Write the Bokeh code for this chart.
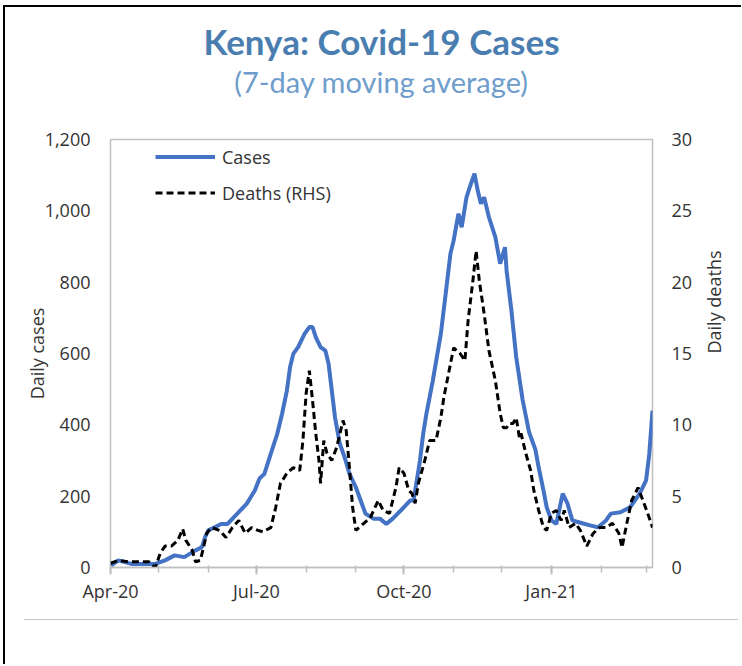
import math
import pandas as pd
from bokeh.plotting import figure
from bokeh.models import (Range1d, LinearAxis, FixedTicker, DatetimeTickFormatter,
                          NumeralTickFormatter, Title, Legend, LegendItem, Div)
from bokeh.layouts import column
from bokeh.embed import file_html
from bokeh.resources import INLINE

# ---------------- data ----------------
case_dates = [
    "2020-04-01", "2020-04-06", "2020-04-14", "2020-04-22", "2020-04-29", "2020-05-05",
    "2020-05-11", "2020-05-17", "2020-05-24", "2020-05-28", "2020-05-30", "2020-06-01",
    "2020-06-05", "2020-06-09", "2020-06-13", "2020-06-17", "2020-06-21", "2020-06-25",
    "2020-06-30", "2020-07-03", "2020-07-06", "2020-07-10", "2020-07-14", "2020-07-17",
    "2020-07-20", "2020-07-22", "2020-07-24", "2020-07-27", "2020-07-31", "2020-08-03",
    "2020-08-05", "2020-08-07", "2020-08-10", "2020-08-13", "2020-08-15", "2020-08-17",
    "2020-08-19", "2020-08-22", "2020-08-25", "2020-08-28", "2020-09-01", "2020-09-04",
    "2020-09-07", "2020-09-12", "2020-09-16", "2020-09-20", "2020-09-24", "2020-10-01",
    "2020-10-05", "2020-10-07", "2020-10-09", "2020-10-11", "2020-10-13", "2020-10-15",
    "2020-10-19", "2020-10-24", "2020-10-27", "2020-10-30", "2020-11-01", "2020-11-04",
    "2020-11-06", "2020-11-09", "2020-11-11", "2020-11-14", "2020-11-16", "2020-11-18",
    "2020-11-20", "2020-11-23", "2020-11-27", "2020-11-30", "2020-12-03", "2020-12-04",
    "2020-12-07", "2020-12-10", "2020-12-14", "2020-12-18", "2020-12-22", "2020-12-24",
    "2020-12-27", "2020-12-29", "2021-01-01", "2021-01-04", "2021-01-08", "2021-01-11",
    "2021-01-14", "2021-01-18", "2021-01-25", "2021-01-30", "2021-02-04", "2021-02-07",
    "2021-02-13", "2021-02-19", "2021-02-25", "2021-03-01", "2021-03-03", "2021-03-05",
]
case_values = [
    5, 20, 10, 10, 10, 20,
    34, 29, 48, 57, 85, 104,
    113, 122, 122, 141, 160, 179,
    216, 250, 263, 319, 375, 431,
    496, 562, 599, 618, 655, 674,
    674, 646, 618, 608, 571, 496,
    421, 347, 309, 263, 225, 188,
    151, 137, 137, 122, 137, 169,
    188, 188, 244, 300, 375, 431,
    524, 655, 767, 880, 917, 992,
    954, 1038, 1066, 1104, 1057, 1020,
    1038, 982, 926, 852, 898, 833,
    721, 590, 470, 380, 330, 281,
    216, 169, 132, 122, 207, 179,
    132, 127, 118, 113, 132, 151,
    155, 169, 207, 244, 319, 440,
]

death_dates = [
    "2020-04-01", "2020-04-06", "2020-04-12", "2020-04-19", "2020-04-25", "2020-04-29",
    "2020-05-02", "2020-05-05", "2020-05-09", "2020-05-13", "2020-05-16", "2020-05-18",
    "2020-05-22", "2020-05-24", "2020-05-27", "2020-05-29", "2020-05-31", "2020-06-03",
    "2020-06-08", "2020-06-12", "2020-06-16", "2020-06-20", "2020-06-24", "2020-06-28",
    "2020-07-02", "2020-07-05", "2020-07-10", "2020-07-13", "2020-07-16", "2020-07-20",
    "2020-07-24", "2020-07-28", "2020-07-30", "2020-08-01", "2020-08-03", "2020-08-05",
    "2020-08-07", "2020-08-09", "2020-08-10", "2020-08-12", "2020-08-14", "2020-08-17",
    "2020-08-20", "2020-08-24", "2020-08-26", "2020-08-28", "2020-08-30", "2020-09-01",
    "2020-09-06", "2020-09-10", "2020-09-15", "2020-09-18", "2020-09-22", "2020-09-26",
    "2020-09-28", "2020-10-01", "2020-10-04", "2020-10-06", "2020-10-08", "2020-10-10",
    "2020-10-14", "2020-10-17", "2020-10-21", "2020-10-24", "2020-10-26", "2020-11-01",
    "2020-11-05", "2020-11-08", "2020-11-10", "2020-11-13", "2020-11-15", "2020-11-17",
    "2020-11-20", "2020-11-23", "2020-11-27", "2020-11-30", "2020-12-02", "2020-12-04",
    "2020-12-06", "2020-12-08", "2020-12-10", "2020-12-12", "2020-12-13", "2020-12-16",
    "2020-12-19", "2020-12-21", "2020-12-24", "2020-12-27", "2020-12-29", "2021-01-01",
    "2021-01-04", "2021-01-07", "2021-01-09", "2021-01-12", "2021-01-16", "2021-01-19",
    "2021-01-23", "2021-01-27", "2021-01-31", "2021-02-04", "2021-02-08", "2021-02-12",
    "2021-02-14", "2021-02-17", "2021-02-20", "2021-02-24", "2021-02-27", "2021-03-02",
    "2021-03-05",
]
death_values = [
    0.3, 0.5, 0.4, 0.4, 0.4, 0.0,
    1.0, 1.5, 1.5, 1.9, 2.7, 1.9,
    1.2, 0.4, 0.5, 1.4, 2.4, 2.8,
    2.6, 2.1, 2.8, 3.3, 2.4, 2.8,
    2.6, 2.5, 2.8, 4.2, 5.9, 6.6,
    7.0, 6.8, 8.9, 12.2, 13.8, 11.7,
    9.4, 7.5, 5.9, 8.9, 8.0, 7.5,
    8.4, 10.3, 9.6, 7.0, 4.2, 2.6,
    3.1, 3.5, 4.7, 4.0, 3.8, 5.6,
    7.0, 6.6, 5.4, 5.2, 4.5, 5.9,
    7.5, 8.9, 8.9, 10.5, 12.0, 15.4,
    15.0, 14.5, 17.3, 20.1, 22.2, 20.1,
    17.8, 15.2, 13.1, 10.8, 9.8, 9.8,
    10.1, 10.1, 10.5, 9.1, 9.4, 8.0,
    6.8, 5.4, 4.0, 2.8, 2.6, 3.8,
    4.0, 3.3, 4.0, 2.8, 3.1, 2.6,
    1.5, 2.4, 2.8, 2.8, 3.1, 2.4,
    1.4, 3.1, 4.7, 5.6, 4.7, 3.8,
    2.8,
]

x_major_dates = ["2020-04-01", "2020-07-01", "2020-10-01", "2021-01-01"]
x_minor_dates = ["2020-04-01", "2020-05-01", "2020-06-01", "2020-07-01", "2020-08-01",
                 "2020-09-01", "2020-10-01", "2020-11-01", "2020-12-01", "2021-01-01",
                 "2021-02-01", "2021-03-01"]
x_start, x_end = "2020-04-01", "2021-03-05"
left_ticks = [0, 200, 400, 600, 800, 1000, 1200]
right_ticks = [0, 5, 10, 15, 20, 25, 30]


def to_ms(ds):
    return [pd.Timestamp(d).timestamp() * 1000.0 for d in ds]


FONT = "Open Sans"
TXT = "#333333"
GRAY = "#bfbfbf"

p = figure(width=736, height=612, x_axis_type="datetime",
           x_range=Range1d(pd.Timestamp(x_start), pd.Timestamp(x_end)),
           y_range=Range1d(left_ticks[0], left_ticks[-1]),
           output_backend="svg", toolbar_location=None, title=None,
           min_border_left=105, min_border_right=88, min_border_top=132, min_border_bottom=52,
           background_fill_color="white", border_fill_color="white",
           outline_line_color=GRAY, outline_line_width=1.5)
p.extra_y_ranges = {"deaths": Range1d(right_ticks[0], right_ticks[-1])}
p.xgrid.visible = False
p.ygrid.visible = False

# titles (spacer nearest the frame, then subtitle, then main title)
spacer = Title(text=" ", align="center", text_font_size="1px", standoff=38)
sub = Title(text="(7-day moving average)", align="center", text_font="Lato",
            text_font_size="29px", text_font_style="normal", text_color="#6f9dcb",
            standoff=0)
main = Title(text="Kenya: Covid-19 Cases", align="center", text_font="Lato",
             text_font_size="35px", text_font_style="bold", text_color="#4a7eb0",
             standoff=0)
p.add_layout(spacer, "above")
p.add_layout(sub, "above")
p.add_layout(main, "above")

# x axis
xa = p.xaxis[0]
xa.ticker = FixedTicker(ticks=to_ms(x_major_dates), minor_ticks=to_ms(x_minor_dates))
xa.formatter = DatetimeTickFormatter(days="%b-%y", months="%b-%y", years="%b-%y")
xa.axis_line_color = GRAY
xa.axis_line_width = 1.5
xa.major_tick_line_color = GRAY
xa.major_tick_line_width = 2
xa.major_tick_in = 2
xa.major_tick_out = 7
xa.minor_tick_line_color = GRAY
xa.minor_tick_line_width = 1.5
xa.minor_tick_in = 2
xa.minor_tick_out = 5
xa.major_label_standoff = 4
xa.major_label_text_font = FONT
xa.major_label_text_font_size = "18px"
xa.major_label_text_color = TXT

# left axis
ya = p.yaxis[0]
ya.ticker = FixedTicker(ticks=left_ticks)
ya.formatter = NumeralTickFormatter(format="0,0")
ya.axis_line_color = None
ya.major_tick_line_color = None
ya.minor_tick_line_color = None
ya.major_tick_in = 0
ya.major_tick_out = 0
ya.major_label_standoff = 20
ya.major_label_text_font = FONT
ya.major_label_text_font_size = "18px"
ya.major_label_text_color = TXT
ya.axis_label = "Daily cases"
ya.axis_label_standoff = -7
ya.axis_label_text_font = FONT
ya.axis_label_text_font_size = "18px"
ya.axis_label_text_font_style = "normal"
ya.axis_label_text_color = TXT

# right axis
ra = LinearAxis(y_range_name="deaths", ticker=FixedTicker(ticks=right_ticks))
ra.axis_line_color = None
ra.major_tick_line_color = None
ra.minor_tick_line_color = None
ra.major_tick_in = 0
ra.major_tick_out = 0
ra.major_label_standoff = 19
ra.major_label_text_font = FONT
ra.major_label_text_font_size = "18px"
ra.major_label_text_color = TXT
ra.axis_label = "Daily deaths"
ra.axis_label_standoff = 19
ra.axis_label_orientation = math.pi / 2
ra.axis_label_text_font = FONT
ra.axis_label_text_font_size = "18px"
ra.axis_label_text_font_style = "normal"
ra.axis_label_text_color = TXT
p.add_layout(ra, "right")

# lines
r_cases = p.line(pd.to_datetime(case_dates), case_values, line_color="#4472C4", line_width=4)
r_deaths = p.line(pd.to_datetime(death_dates), death_values, y_range_name="deaths",
                  line_color="black", line_width=3, line_dash="7 4")

legend = Legend(items=[LegendItem(label="Cases", renderers=[r_cases]),
                       LegendItem(label="Deaths (RHS)", renderers=[r_deaths])],
                location=(45, 362), border_line_color=None, background_fill_alpha=0,
                label_text_font=FONT, label_text_font_size="18px", label_text_color=TXT,
                glyph_width=60, glyph_height=25, label_height=25, spacing=11,
                padding=0, margin=0, label_standoff=7)
p.add_layout(legend)

line_div = Div(text="", width=714, height=45, margin=(0, 0, 0, 19),
               styles={"border-top": "1px solid #c8c8c8"})

layout = column(p, line_div, margin=(5, 0, 0, 3),
                styles={"border-top": "2px solid black", "border-left": "2px solid black"})

open("out.html", "w").write(file_html(layout, INLINE))
